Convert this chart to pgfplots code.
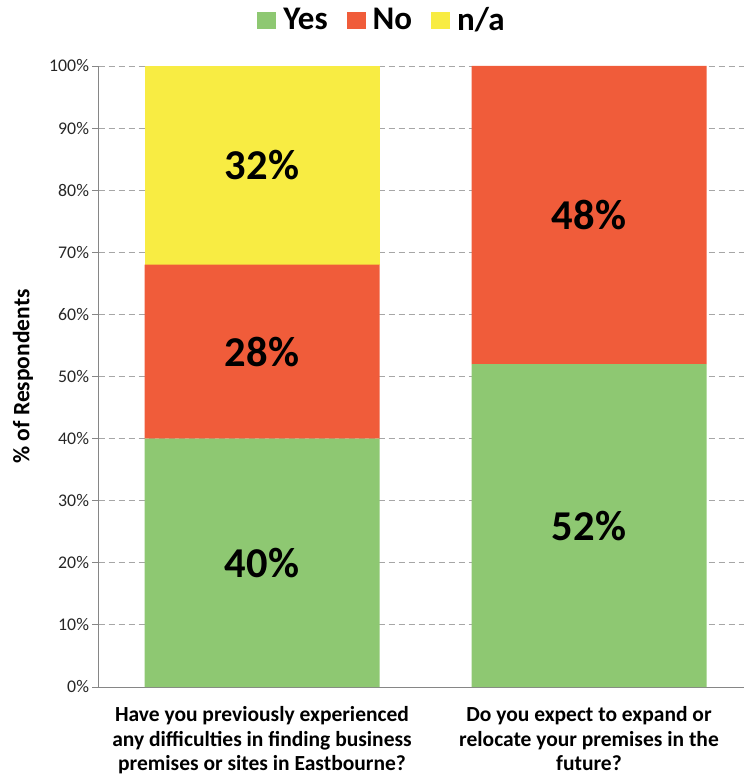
\documentclass[border=0pt]{standalone}
\usepackage{fontspec}
\setmainfont{Carlito}
\usepackage{pgfplots}
\pgfplotsset{compat=1.18}

\definecolor{cYes}{RGB}{142,200,114}
\definecolor{cNo}{RGB}{240,92,58}
\definecolor{cNA}{RGB}{248,236,67}
\definecolor{axisgray}{RGB}{134,134,134}
\definecolor{gridgray}{RGB}{166,166,166}

\pgfplotsset{
  surveyframe/.style={
    at={(98.5bp,93bp)}, anchor=south west,
    scale only axis, width=645.5bp, height=621bp,
    xmin=-0.5, xmax=1.474, ymin=0, ymax=100,
  },
}

\begin{document}
\begin{tikzpicture}
\path[use as bounding box] (0,0) rectangle (744bp,780bp);

\begin{axis}[
  surveyframe,
  ybar stacked, bar width=235bp,
  axis lines*=left,
  axis line style={axisgray, line width=0.8bp},
  ytick={0,10,...,100},
  yticklabels={0\%,10\%,20\%,30\%,40\%,50\%,60\%,70\%,80\%,90\%,100\%},
  yticklabel style={font=\fontsize{17.8bp}{19bp}\selectfont, text=black!85},
  ytick style={axisgray, line width=0.8bp},
  major tick length=6bp, tick align=outside,
  ymajorgrids,
  grid style={gridgray, dash pattern=on 6bp off 4bp, line width=0.9bp},
  xtick={0,1},
  xticklabels={{Have you previously experienced\\any difficulties in finding business\\premises or sites in Eastbourne?},
               {Do you expect to expand or\\relocate your premises in the\\future?}},
  xticklabel style={align=center, font=\bfseries\fontsize{21.5bp}{24.5bp}\selectfont, yshift=-10bp},
  xtick style={draw=none},
  extra x ticks={-0.5,0.5},
  extra x tick labels={},
  extra x tick style={xtick style={axisgray, line width=0.8bp}, grid=none},
  ylabel={\% of Respondents},
  ylabel style={at={(axis description cs:-0.117,0.5)}, anchor=center,
                font=\bfseries\fontsize{23.5bp}{25bp}\selectfont},
  legend style={at={(0.44,1.074)}, anchor=center, draw=none, fill=none,
                legend columns=3,
                font=\bfseries\fontsize{33bp}{34bp}\selectfont,
                /tikz/every even column/.append style={column sep=16bp},
                nodes={inner sep=3bp}},
  legend image code/.code={%
    \fill[#1] (0bp,-9bp) rectangle (19bp,8bp);
    \path (23bp,0bp);},
]
  \addplot[fill=cYes, draw=none] coordinates {(0,40) (1,52)};
  \addplot[fill=cNo,  draw=none] coordinates {(0,28) (1,48)};
  \addplot[fill=cNA,  draw=none] coordinates {(0,32) (1,0)};
  \legend{Yes,No,n/a}
\end{axis}

% value labels, centred within each segment
\begin{axis}[
  surveyframe, hide axis,
]
  \addplot[only marks, mark=none, point meta=explicit symbolic,
           nodes near coords,
           every node near coord/.style={anchor=center,
             font=\bfseries\fontsize{42.5bp}{44bp}\selectfont}]
    coordinates {(0,20) [40\%] (0,54) [28\%] (0,84) [32\%]
                 (1,26) [52\%] (1,76) [48\%]};
\end{axis}
\end{tikzpicture}
\end{document}
